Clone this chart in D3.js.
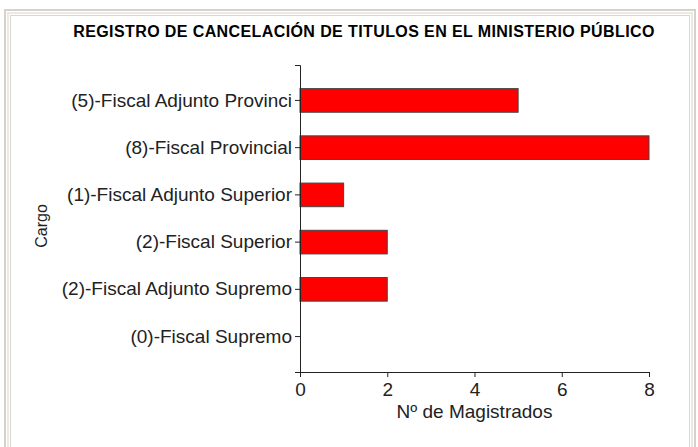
<!DOCTYPE html>
<html>
<head>
<meta charset="utf-8">
<script src="https://cdn.jsdelivr.net/npm/d3@7"></script>
<style>
	body { margin: 0; background: #fff; }
	svg { display: block; font-family: "Liberation Sans", Arial, sans-serif; }
	.axis path, .axis line { stroke: #222; }
	.axis text { fill: #222; font-size: 19px; font-family: "Liberation Sans", Arial, sans-serif; }
</style>
</head>
<body>
<div id="chart"></div>
<script>
var title = "REGISTRO DE CANCELACIÓN DE TITULOS EN EL MINISTERIO PÚBLICO";
var categories = [
	"(5)-Fiscal Adjunto Provinci",
	"(8)-Fiscal Provincial",
	"(1)-Fiscal Adjunto Superior",
	"(2)-Fiscal Superior",
	"(2)-Fiscal Adjunto Supremo",
	"(0)-Fiscal Supremo"
];
var values = [ 5, 8, 1, 2, 2, 0 ];
var xTicks = [ 0, 2, 4, 6, 8 ];
var xLabel = "Nº de Magistrados";
var yLabel = "Cargo";

var W = 698, H = 447;

var svg = d3.select("#chart")
	.append("svg")
	.attr("width", W)
	.attr("height", H)
;

// frame around the chart
svg.append("rect")
	.attr("x", 5).attr("y", 10)
	.attr("width", 690).attr("height", H)
	.attr("fill", "none")
	.attr("stroke", "#d6d2ca")
	.attr("stroke-width", 2)
;
svg.append("rect")
	.attr("x", 8).attr("y", 13)
	.attr("width", 684).attr("height", H)
	.attr("fill", "none")
	.attr("stroke", "#ebe9e4")
	.attr("stroke-width", 2)
;
svg.append("rect")
	.attr("x", 10.5).attr("y", 15.5)
	.attr("width", 679).attr("height", H)
	.attr("fill", "#fff")
	.attr("stroke", "#dcd8d0")
	.attr("stroke-width", 1)
;

var margin = {top: 65, left: 300, right: 49, bottom: 75};
var width = W - margin.left - margin.right;
var height = H - margin.top - margin.bottom;

var x = d3.scaleLinear().domain([0, 8]).range([0, width]);
var y = d3.scaleBand().domain(categories).range([0, height]).padding(0.5);

var g = svg.append("g")
	.attr("transform", "translate(" + margin.left + "," + margin.top + ")");

svg.append("text")
	.attr("x", 364)
	.attr("y", 37)
	.attr("text-anchor", "middle")
	.attr("font-size", "16px")
	.attr("font-weight", "bold")
	.attr("letter-spacing", "0.4px")
	.attr("fill", "#000")
	.text(title)
;

g.selectAll(".bar").data(values)
	.enter().append("rect")
	.attr("class", "bar")
	.attr("x", x(0))
	.attr("y", (d, i) => y(categories[i]))
	.attr("width", (d) => x(d) - x(0))
	.attr("height", y.bandwidth())
	.attr("fill", "#ff0000")
	.attr("stroke", (d) => d > 0 ? "#444" : "none")
	.attr("stroke-width", 1)
;

g.append("g")
	.attr("class", "axis")
	.attr("transform", "translate(0," + height + ")")
	.call(d3.axisBottom(x).tickValues(xTicks).tickSizeOuter(0).tickSize(5).tickPadding(6))
;

g.append("g")
	.attr("class", "axis")
	.call(d3.axisLeft(y).tickSizeOuter(0).tickSize(5).tickPadding(3))
;

g.append("text")
	.attr("x", width / 2)
	.attr("y", height + 46)
	.attr("text-anchor", "middle")
	.attr("font-size", "19px")
	.attr("fill", "#222")
	.text(xLabel)
;

svg.append("text")
	.attr("transform", "translate(47,226)rotate(-90)")
	.attr("text-anchor", "middle")
	.attr("font-size", "16px")
	.attr("fill", "#222")
	.text(yLabel)
;
</script>
</body>
</html>
